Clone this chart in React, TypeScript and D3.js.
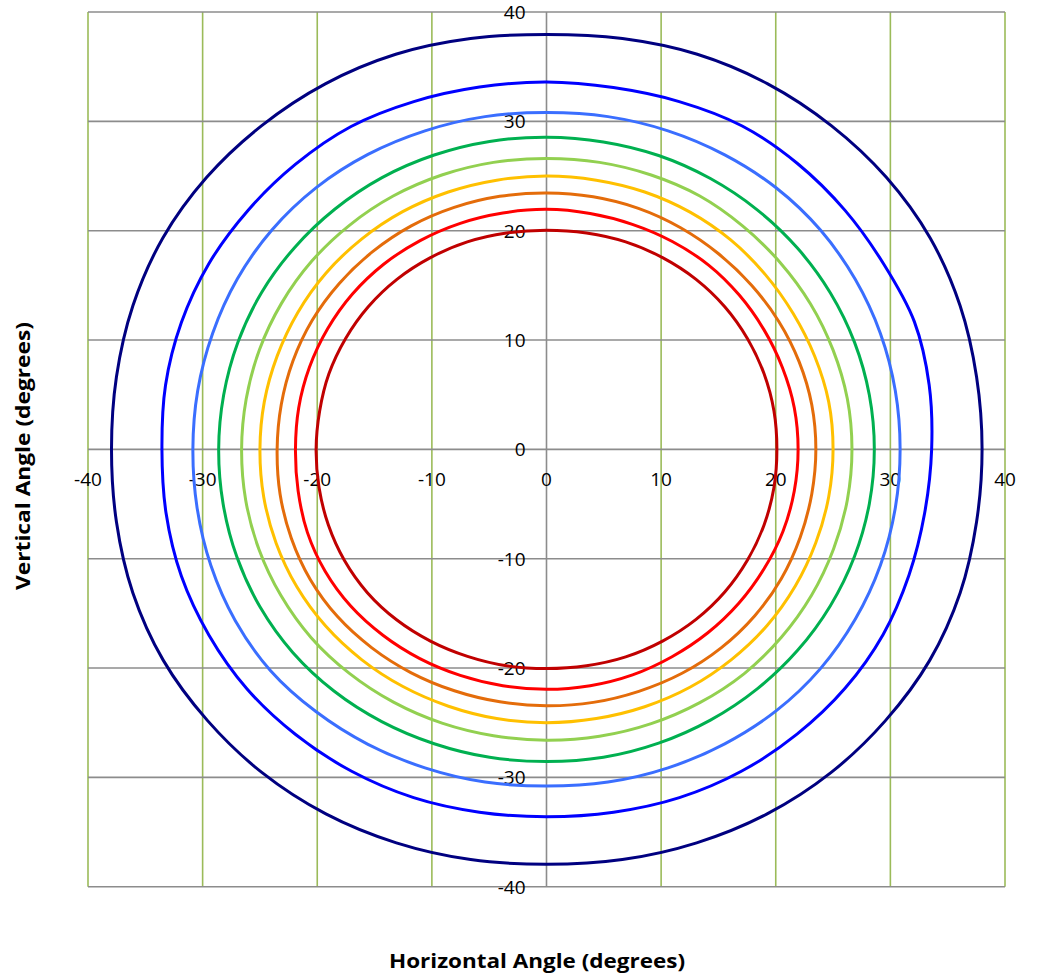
import React from 'react';
import * as d3 from 'd3';

// Sampling angles (degrees, counter-clockwise from +horizontal)
const ANGLES = [0, 10, 20, 30, 40, 50, 60, 70, 80, 90, 100, 110, 120, 130, 140, 150, 160, 170,
  180, 190, 200, 210, 220, 230, 240, 250, 260, 270, 280, 290, 300, 310, 320, 330, 340, 350];

// Contour radii (degrees) at each sampling angle
const DARK_RED = [20.1, 20.15, 20.2, 20.25, 20.3, 20.3, 20.25, 20.2, 20.1, 20.05, 20.1, 20.2, 20.25, 20.3, 20.3, 20.25, 20.2, 20.1,
  20.1, 20.15, 20.25, 20.35, 20.4, 20.35, 20.25, 20.15, 20.1, 20.05, 20.1, 20.2, 20.25, 20.3, 20.3, 20.25, 20.2, 20.15];
const RED = [21.95, 21.95, 21.9, 21.9, 21.95, 22.0, 21.95, 21.9, 21.9, 21.95, 21.95, 22.0, 22.05, 22.1, 22.1, 22.05, 22.0, 21.95,
  21.9, 22.0, 22.2, 22.3, 22.3, 22.2, 22.1, 22.0, 21.95, 21.95, 21.95, 21.95, 21.9, 21.9, 21.9, 21.9, 21.95, 21.95];
const ORANGE = [23.5, 23.5, 23.45, 23.4, 23.35, 23.35, 23.4, 23.45, 23.45, 23.45, 23.5, 23.55, 23.6, 23.6, 23.6, 23.6, 23.55, 23.5,
  23.5, 23.6, 23.7, 23.8, 23.8, 23.7, 23.6, 23.5, 23.45, 23.45, 23.5, 23.55, 23.65, 23.7, 23.7, 23.65, 23.55, 23.5];
const GOLD = [25.0, 25.0, 24.9, 24.85, 24.9, 25.0, 25.05, 25.05, 25.0, 25.0, 25.0, 25.05, 25.1, 25.1, 25.1, 25.05, 25.0, 25.0,
  25.0, 25.05, 25.1, 25.15, 25.15, 25.1, 25.05, 25.0, 25.0, 25.0, 25.0, 25.05, 25.1, 25.1, 25.1, 25.05, 25.0, 25.0];
const LIGHT_GREEN = [26.65, 26.65, 26.6, 26.6, 26.6, 26.65, 26.75, 26.7, 26.65, 26.6, 26.65, 26.7, 26.75, 26.75, 26.75, 26.7, 26.65, 26.6,
  26.6, 26.65, 26.7, 26.75, 26.8, 26.75, 26.7, 26.65, 26.6, 26.6, 26.65, 26.7, 26.75, 26.8, 26.75, 26.7, 26.65, 26.65];
const GREEN = [28.6, 28.6, 28.6, 28.6, 28.6, 28.6, 28.6, 28.6, 28.55, 28.55, 28.6, 28.65, 28.7, 28.7, 28.7, 28.7, 28.65, 28.6,
  28.6, 28.65, 28.75, 28.85, 28.9, 28.85, 28.75, 28.65, 28.6, 28.55, 28.6, 28.6, 28.6, 28.6, 28.6, 28.6, 28.6, 28.6];
const LIGHT_BLUE = [30.85, 30.9, 31.0, 31.1, 31.2, 31.2, 31.1, 31.0, 30.9, 30.8, 30.9, 31.0, 31.15, 31.25, 31.25, 31.15, 31.0, 30.9,
  30.85, 30.95, 31.15, 31.35, 31.45, 31.3, 31.15, 31.0, 30.9, 30.8, 30.9, 31.0, 31.1, 31.2, 31.2, 31.1, 31.0, 30.9];
const BLUE = [33.6, 33.9, 34.15, 33.95, 34.0, 34.1, 34.15, 33.85, 33.6, 33.6, 33.65, 33.85, 34.1, 34.05, 34.0, 34.0, 33.9, 33.75,
  33.55, 33.7, 33.9, 34.0, 34.1, 34.05, 34.0, 33.9, 33.7, 33.6, 33.7, 33.9, 34.0, 34.0, 34.0, 33.9, 33.65, 33.5];
const NAVY = [38.0, 38.1, 38.4, 38.65, 38.7, 38.65, 38.6, 38.45, 38.15, 37.95, 38.15, 38.45, 38.6, 38.65, 38.7, 38.65, 38.4, 38.1,
  37.95, 38.1, 38.4, 38.6, 38.6, 38.6, 38.5, 38.3, 38.1, 37.95, 38.1, 38.3, 38.5, 38.6, 38.6, 38.6, 38.4, 38.1];

const SERIES_VALUES = [DARK_RED, RED, ORANGE, GOLD, LIGHT_GREEN, GREEN, LIGHT_BLUE, BLUE, NAVY];
const SERIES_COLORS = ['#C00000', '#FF0000', '#E46C0A', '#FFC000', '#92D050', '#00B050', '#3A6EFF', '#0000FF', '#000080'];

const X_TICKS = [-40, -30, -20, -10, 0, 10, 20, 30, 40];
const Y_TICKS = [-40, -30, -20, -10, 0, 10, 20, 30, 40];

const X_TITLE = 'Horizontal Angle (degrees)';
const Y_TITLE = 'Vertical Angle (degrees)';

export default function App() {
  const W = 1048;
  const H = 978;
  const x = d3.scaleLinear().domain([-40, 40]).range([88, 1005]);
  const y = d3.scaleLinear().domain([-40, 40]).range([886.7, 12]);

  const line = d3
    .line<[number, number]>()
    .x((d) => x(d[0]))
    .y((d) => y(d[1]))
    .curve(d3.curveCatmullRomClosed.alpha(0.5));

  const toPoints = (radii: number[]): [number, number][] =>
    ANGLES.map((a, i) => {
      const t = (a * Math.PI) / 180;
      return [radii[i] * Math.cos(t), radii[i] * Math.sin(t)];
    });

  const font = "'Open Sans', 'Liberation Sans', sans-serif";

  return (
    <svg
      width={W}
      height={H}
      style={{ position: 'absolute', left: 0, top: 0, background: '#fff' }}
      fontFamily={font}
    >
      {/* vertical grid lines (green) */}
      {X_TICKS.filter((t) => t !== 0).map((t) => (
        <line key={'vx' + t} x1={x(t)} x2={x(t)} y1={y(40)} y2={y(-40)} stroke="#9BBB59" strokeWidth={1.6} />
      ))}
      {/* horizontal grid lines (gray) */}
      {Y_TICKS.map((t) => (
        <line key={'hy' + t} x1={x(-40)} x2={x(40)} y1={y(t)} y2={y(t)} stroke="#8C8C8C" strokeWidth={1.6} />
      ))}
      {/* vertical axis at 0 */}
      <line x1={x(0)} x2={x(0)} y1={y(40)} y2={y(-40)} stroke="#8C8C8C" strokeWidth={1.6} />

      {/* x tick labels */}
      {X_TICKS.map((t) => (
        <text key={'xl' + t} x={x(t)} y={y(0) + 37} textAnchor="middle" fontSize={19} fill="#000">
          {t}
        </text>
      ))}
      {/* y tick labels */}
      {Y_TICKS.map((t) => (
        <text key={'yl' + t} x={x(0) - 21} y={y(t) + 7} textAnchor="end" fontSize={19} fill="#000">
          {t}
        </text>
      ))}

      {/* contours */}
      {SERIES_VALUES.map((vals, i) => (
        <path
          key={'s' + i}
          d={line(toPoints(vals)) || ''}
          fill="none"
          stroke={SERIES_COLORS[i]}
          strokeWidth={3}
          strokeLinejoin="round"
        />
      ))}

      {/* axis titles */}
      <text x={537} y={968} textAnchor="middle" fontSize={20} fontWeight="bold" fill="#000" textLength={296} lengthAdjust="spacingAndGlyphs">
        {X_TITLE}
      </text>
      <text
        transform={`translate(30, 456) rotate(-90)`}
        textAnchor="middle"
        fontSize={20}
        fontWeight="bold"
        fill="#000"
        textLength={268}
        lengthAdjust="spacingAndGlyphs"
      >
        {Y_TITLE}
      </text>
    </svg>
  );
}
